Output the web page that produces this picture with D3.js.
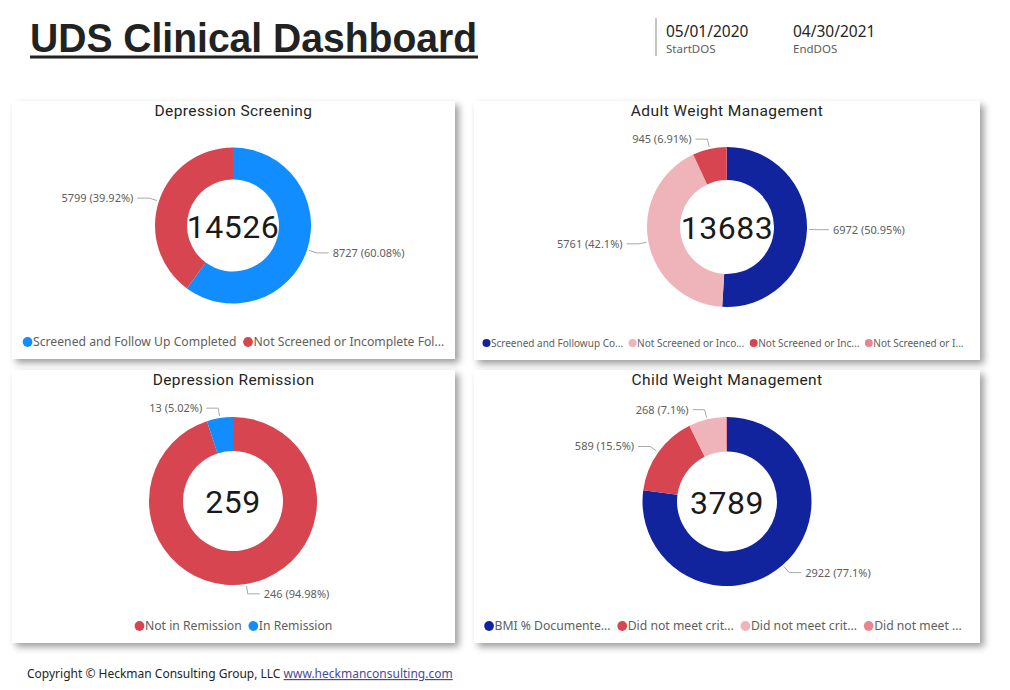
<!DOCTYPE html>
<html>
<head>
<meta charset="utf-8">
<script src="https://cdn.jsdelivr.net/npm/d3@7"></script>
<style>
  html, body { margin: 0; padding: 0; background: #ffffff; }
  svg { display: block; }
</style>
</head>
<body>
<svg id="chart" width="1010" height="690"></svg>
<script>
// ---------------- DATA ----------------
const dashboardTitle = "UDS Clinical Dashboard";
const startDate = "05/01/2020";
const startLabel = "StartDOS";
const endDate = "04/30/2021";
const endLabel = "EndDOS";

const screeningTitle = "Depression Screening";
const screeningLegend = ["Screened and Follow Up Completed", "Not Screened or Incomplete Fol..."];
const screeningValues = [8727, 5799];
const screeningColors = ["#118DFF", "#D64550"];
const screeningDecimals = 2;

const adultTitle = "Adult Weight Management";
const adultLegend = ["Screened and Followup Co...", "Not Screened or Inco...", "Not Screened or Inc...", "Not Screened or I..."];
const adultValues = [6972, 5761, 945, 5];
const adultColors = ["#12239E", "#EEB4BA", "#D64550", "#E8858F"];
const adultDecimals = 2;

const remissionTitle = "Depression Remission";
const remissionLegend = ["Not in Remission", "In Remission"];
const remissionValues = [246, 13];
const remissionColors = ["#D64550", "#118DFF"];
const remissionDecimals = 2;

const childTitle = "Child Weight Management";
const childLegend = ["BMI % Documente...", "Did not meet crit...", "Did not meet crit...", "Did not meet ..."];
const childValues = [2922, 589, 268, 10];
const childColors = ["#12239E", "#D64550", "#EEB4BA", "#E8858F"];
const childDecimals = 1;

const footerText = "Copyright \u00A9 Heckman Consulting Group, LLC ";
const footerLink = "www.heckmanconsulting.com";

// ---------------- LAYOUT ----------------
const svg = d3.select("#chart");
const defs = svg.append("defs");
const f = defs.append("filter").attr("id", "shadow")
  .attr("x", "-5%").attr("y", "-5%").attr("width", "115%").attr("height", "120%");
f.append("feDropShadow").attr("dx", 4).attr("dy", 4).attr("stdDeviation", 3.5)
  .attr("flood-color", "#000").attr("flood-opacity", 0.38);

const uiFont = "'Noto Sans', 'Open Sans', 'Liberation Sans', sans-serif";
const titleFont = "Roboto, 'Liberation Sans', sans-serif";

// Header title
svg.append("text")
  .attr("x", 30).attr("y", 52)
  .attr("font-family", "'Liberation Sans', Arial, sans-serif")
  .attr("font-weight", "bold")
  .attr("font-size", 40)
  .attr("fill", "#222")
  .attr("textLength", 447).attr("lengthAdjust", "spacingAndGlyphs")
  .text(dashboardTitle);
svg.append("rect").attr("x", 30).attr("y", 55.5).attr("width", 448).attr("height", 3).attr("fill", "#222");

// Date cards
svg.append("line").attr("x1", 656).attr("x2", 656).attr("y1", 18).attr("y2", 56)
  .attr("stroke", "#C8C6C4").attr("stroke-width", 2);
[[666, startDate, startLabel], [793, endDate, endLabel]].forEach(([x, d, l]) => {
  svg.append("text").attr("x", x).attr("y", 37).attr("font-family", uiFont)
    .attr("font-size", 15.5).attr("fill", "#252423").text(d);
  svg.append("text").attr("x", x).attr("y", 53).attr("font-family", uiFont)
    .attr("font-size", 11.5).attr("fill", "#605E5C").text(l);
});

// Footer
const ft = svg.append("text").attr("x", 27).attr("y", 678)
  .attr("font-family", uiFont).attr("font-size", 12).attr("fill", "#252423");
ft.append("tspan").text(footerText);
ft.append("tspan").attr("fill", "#4A4A96").attr("text-decoration", "underline").text(footerLink);

// Panels
const panels = [
  { title: screeningTitle, legend: screeningLegend, values: screeningValues, colors: screeningColors, dec: screeningDecimals,
    box: [12, 101, 443, 258], cx: 233, cy: 225.5, outer: 78, inner: 46, legendY: 342, legendSize: 12.2 },
  { title: adultTitle, legend: adultLegend, values: adultValues, colors: adultColors, dec: adultDecimals,
    box: [474, 101, 506, 259], cx: 727, cy: 227, outer: 80, inner: 47, legendY: 343, legendSize: 10 },
  { title: remissionTitle, legend: remissionLegend, values: remissionValues, colors: remissionColors, dec: remissionDecimals,
    box: [12, 370, 443, 273], cx: 233, cy: 501, outer: 84, inner: 50, legendY: 626, legendSize: 12.2 },
  { title: childTitle, legend: childLegend, values: childValues, colors: childColors, dec: childDecimals,
    box: [474, 370, 506, 273], cx: 727, cy: 501.5, outer: 84.5, inner: 50, legendY: 626, legendSize: 12.2 }
];

panels.forEach(p => {
  const [bx, by, bw, bh] = p.box;
  svg.append("rect").attr("x", bx).attr("y", by).attr("width", bw).attr("height", bh)
    .attr("fill", "#fff").attr("filter", "url(#shadow)");

  svg.append("text").attr("x", bx + bw / 2).attr("y", by + 15)
    .attr("text-anchor", "middle").attr("font-family", titleFont)
    .attr("font-size", 15.5).attr("letter-spacing", 0.4).attr("fill", "#252423").text(p.title);

  const total = d3.sum(p.values);
  const pie = d3.pie().sort(null).value(d => d)(p.values);
  const arc = d3.arc().innerRadius(p.inner).outerRadius(p.outer);
  const g = svg.append("g").attr("transform", `translate(${p.cx},${p.cy})`);
  g.selectAll("path").data(pie).join("path")
    .attr("d", arc).attr("fill", (d, i) => p.colors[i]);

  // center total
  g.append("text").attr("x", 0).attr("y", 12).attr("text-anchor", "middle")
    .attr("font-family", titleFont).attr("font-size", 32).attr("letter-spacing", 0.5)
    .attr("fill", "#1a1a1a").text(total);

  // labels with leader lines
  pie.forEach((d, i) => {
    const frac = d.value / total;
    if (frac < 0.01) return;
    const a = (d.startAngle + d.endAngle) / 2;
    const sx = Math.sin(a), sy = -Math.cos(a);
    const p0 = [sx * (p.outer + 2), sy * (p.outer + 2)];
    const p1 = [sx * (p.outer + 10), sy * (p.outer + 10)];
    const right = sx >= 0;
    const p2 = [p1[0] + (right ? 12 : -12), p1[1]];
    g.append("polyline").attr("points", [p0, p1, p2].map(q => q.join(",")).join(" "))
      .attr("fill", "none").attr("stroke", "#A8A8A8").attr("stroke-width", 1);
    const m = Math.pow(10, p.dec);
    const pct = Math.round(frac * 100 * m) / m;
    g.append("text").attr("x", p2[0] + (right ? 4 : -4)).attr("y", p2[1] + 4)
      .attr("text-anchor", right ? "start" : "end")
      .attr("font-family", uiFont).attr("font-size", 11).attr("fill", "#605E5C")
      .text(`${d.value} (${pct}%)`);
  });

  // legend
  const lg = svg.append("g");
  let x = 0;
  p.legend.forEach((name, i) => {
    const it = lg.append("g");
    it.append("circle").attr("cx", x + p.legendSize * 0.4).attr("cy", 0)
      .attr("r", p.legendSize * 0.4).attr("fill", p.colors[i]);
    const t = it.append("text").attr("x", x + p.legendSize * 0.85).attr("y", p.legendSize * 0.36)
      .attr("font-family", uiFont).attr("font-size", p.legendSize).attr("fill", "#605E5C").text(name);
    const w = t.node().getComputedTextLength();
    x += p.legendSize * 0.85 + w + p.legendSize * 0.55;
  });
  const totalW = x - p.legendSize * 0.55;
  lg.attr("transform", `translate(${bx + (bw - totalW) / 2 - (bw > 480 ? 4 : 0)},${p.legendY})`);
});
</script>
</body>
</html>
